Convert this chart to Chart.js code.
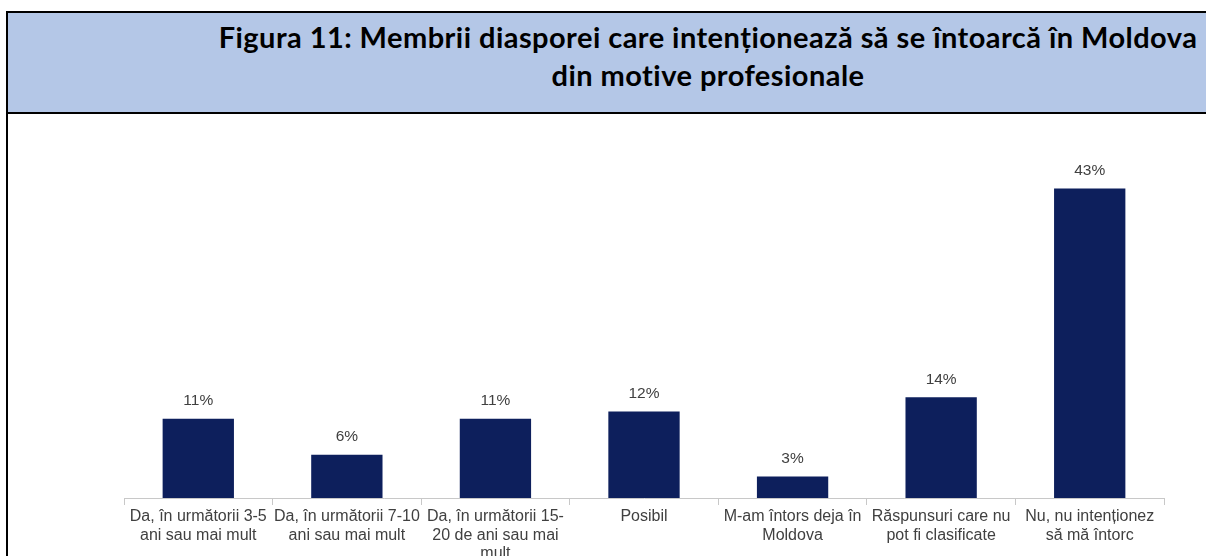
<!DOCTYPE html>
<html>
<head>
<meta charset="utf-8">
<script src="https://cdn.jsdelivr.net/npm/chart.js@4.4.1/dist/chart.umd.min.js"></script>
<style>
  html, body { margin: 0; padding: 0; background: #fff; }
  body { width: 1206px; height: 556px; position: relative; overflow: hidden; }
  #header {
    position: absolute; left: 6px; top: 11px; width: 1400px; height: 99px;
    background: #b4c7e7;
    border-top: 2px solid #000; border-left: 2px solid #000; border-bottom: 2px solid #000;
  }
  #leftline { position: absolute; left: 6px; top: 114px; width: 2px; height: 442px; background: #000; }
  #title {
    position: absolute; left: 8px; top: 18px; width: 1400px;
    text-align: center; font-family: Lato, "Open Sans", sans-serif; font-weight: 700;
    font-size: 29px; letter-spacing: 0.45px; line-height: 38px; color: #000;
  }
  #chart-wrap { position: absolute; left: 0; top: 114px; width: 1206px; height: 442px; }
</style>
</head>
<body>
<div id="header"></div>
<div id="leftline"></div>
<div id="title">Figura 11: Membrii diasporei care intenționează să se întoarcă în Moldova<br>din motive profesionale</div>
<div id="chart-wrap"><canvas id="main-chart" width="1206" height="442"></canvas></div>
<script>
const categories = [
  ['Da, în următorii 3-5', 'ani sau mai mult'],
  ['Da, în următorii 7-10', 'ani sau mai mult'],
  ['Da, în următorii 15-', '20 de ani sau mai', 'mult'],
  'Posibil',
  ['M-am întors deja în', 'Moldova'],
  ['Răspunsuri care nu', 'pot fi clasificate'],
  ['Nu, nu intenționez', 'să mă întorc'],
];
const shares = [11, 6, 11, 12, 3, 14, 43];

const BAR_COLOR  = '#0d1f5c';
const TEXT_COLOR = '#404040';
const AXIS_COLOR = '#c8c8c8';

// Percent labels above each bar
const valueLabels = {
  id: 'valueLabels',
  afterDatasetsDraw(chart) {
    const ctx = chart.ctx;
    const meta = chart.getDatasetMeta(0);
    ctx.save();
    ctx.font = '15.5px "Liberation Sans", Arial, sans-serif';
    ctx.fillStyle = TEXT_COLOR;
    ctx.textAlign = 'center';
    ctx.textBaseline = 'bottom';
    meta.data.forEach((bar, i) => {
      ctx.fillText(shares[i] + '%', bar.x, bar.y - 10);
    });
    ctx.restore();
  }
};

const canvas = document.getElementById('main-chart');
new Chart(canvas.getContext('2d'), {
  type: 'bar',
  data: {
    labels: categories,
    datasets: [{
      data: shares,
      backgroundColor: BAR_COLOR,
      borderWidth: 0,
      barPercentage: 0.48,
      categoryPercentage: 1,
    }]
  },
  options: {
    responsive: false,
    maintainAspectRatio: false,
    animation: false,
    devicePixelRatio: 1,
    layout: { padding: { left: 124, right: 42, top: 24, bottom: 0 } },
    plugins: { legend: { display: false }, tooltip: { enabled: false } },
    scales: {
      x: {
        grid: { display: true, drawOnChartArea: false, drawTicks: true, tickLength: 7, color: AXIS_COLOR, offset: true },
        border: { display: true, color: AXIS_COLOR, width: 1 },
        ticks: {
          color: TEXT_COLOR, padding: 3, maxRotation: 0, autoSkip: false,
          font: { family: '"Liberation Sans", Arial, sans-serif', size: 16, lineHeight: 1.13 },
        },
        afterFit: scale => { scale.height = 58; },
      },
      y: { display: false, min: 0, max: 50 },
    }
  },
  plugins: [valueLabels]
});
</script>
</body>
</html>
